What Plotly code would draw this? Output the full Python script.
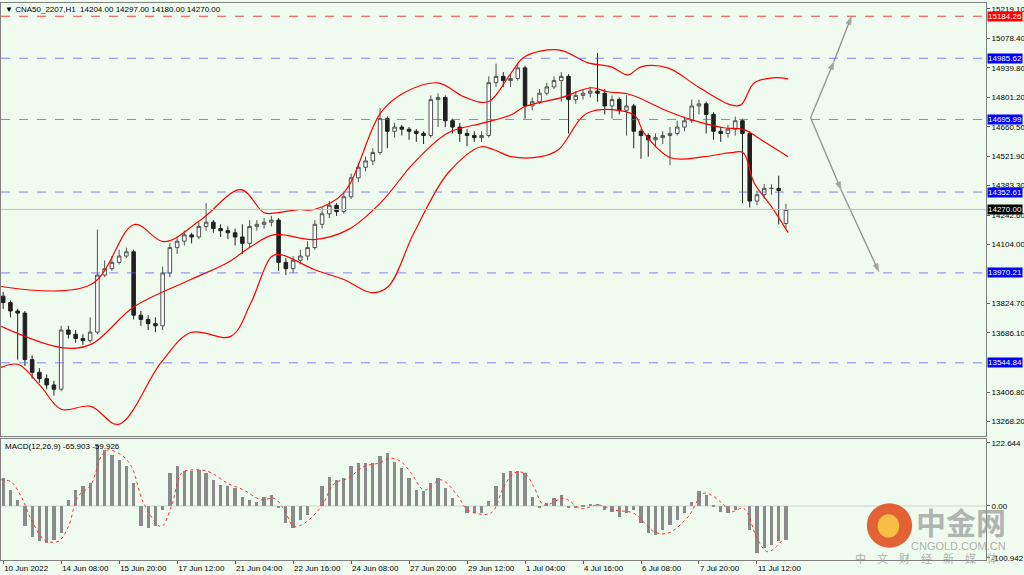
import plotly.graph_objects as go

# ---------------- data ----------------
x_labels = ["10 Jun 2022", "14 Jun 08:00", "15 Jun 20:00", "17 Jun 12:00", "21 Jun 04:00",
            "22 Jun 16:00", "24 Jun 08:00", "27 Jun 20:00", "29 Jun 12:00", "1 Jul 04:00",
            "4 Jul 16:00", "6 Jul 08:00", "7 Jul 20:00", "11 Jul 12:00"]
x_label_pos = [0, 8, 16, 24, 32, 40, 48, 56, 64, 72, 80, 88, 96, 104]

closes = [13830,13790,13780,13560,13500,13470,13440,13420,13700,13680,
          13660,13650,13690,13960,13990,14020,14050,14070,13770,13750,
          13730,13720,13970,14090,14120,14150,14140,14190,14210,14180,
          14170,14160,14140,14110,14190,14200,14210,14220,14020,13990,
          14030,14050,14090,14200,14250,14290,14260,14330,14420,14470,
          14500,14540,14700,14640,14660,14650,14640,14630,14620,14790,
          14800,14690,14660,14630,14620,14610,14620,14870,14900,14880,
          14890,14940,14760,14780,14820,14850,14880,14900,14790,14810,
          14820,14830,14820,14760,14790,14740,14760,14640,14620,14600,
          14610,14620,14630,14660,14690,14760,14770,14720,14640,14630,
          14650,14690,14630,14310,14340,14370,14370,14360,14270]
opens = [13860,13830,13790,13780,13560,13500,13470,13440,13420,13700,
         13680,13660,13650,13690,13960,13990,14020,14050,14070,13770,
         13750,13730,13720,13970,14090,14120,14150,14140,14190,14210,
         14180,14170,14160,14140,14110,14190,14200,14210,14220,14020,
         13990,14030,14050,14090,14200,14250,14290,14260,14330,14420,
         14470,14500,14540,14700,14640,14660,14650,14640,14630,14620,
         14790,14800,14690,14660,14630,14620,14610,14620,14870,14900,
         14880,14890,14940,14760,14780,14820,14850,14880,14900,14790,
         14810,14820,14830,14820,14760,14790,14740,14760,14640,14620,
         14600,14610,14620,14630,14660,14690,14760,14770,14720,14640,
         14630,14650,14690,14630,14310,14340,14370,14370,14204]
highs = [13880,13840,13800,13790,13580,13520,13490,13460,13720,13720,
         13700,13680,13760,14175,14030,14050,14080,14090,14080,13790,
         13770,13760,14000,14110,14140,14170,14160,14210,14300,14220,
         14200,14190,14180,14200,14220,14220,14230,14240,14230,14040,
         14050,14080,14120,14220,14280,14310,14300,14350,14440,14490,
         14520,14560,14750,14710,14680,14670,14660,14650,14640,14810,
         14820,14810,14700,14680,14650,14640,14640,14900,14960,14920,
         14910,14964,14950,14800,14840,14870,14900,14920,14910,14830,
         14840,14850,15010,14840,14810,14800,14810,14770,14650,14630,
         14630,14640,14660,14690,14710,14790,14790,14780,14730,14660,
         14670,14710,14700,14640,14360,14390,14390,14430,14297]
lows = [13800,13760,13560,13530,13470,13450,13420,13390,13410,13660,
        13640,13630,13640,13680,13950,13980,14010,14040,13750,13720,
        13700,13690,13700,13950,14060,14100,14110,14130,14170,14160,
        14140,14130,14100,14060,14090,14170,14180,14190,13980,13960,
        13970,14010,14030,14080,14180,14230,14240,14250,14320,14400,
        14450,14480,14530,14560,14610,14620,14600,14590,14580,14610,
        14660,14660,14630,14590,14570,14590,14590,14610,14850,14850,
        14850,14880,14700,14740,14770,14810,14840,14780,14630,14770,
        14790,14800,14780,14720,14700,14720,14620,14560,14510,14520,
        14570,14580,14480,14620,14640,14680,14720,14630,14600,14590,
        14610,14620,14300,14280,14290,14320,14340,14200,14180]

bb_up_x = [-0.3,12.1,18.1,22.2,27.3,32.8,36.0,37.9,40.7,42.9,47.0,52.1,55.3,60.0,63.6,
           66.9,70.1,71.9,76.6,80.7,83.9,86.2,88.0,91.7,95.9,100.4,101.8,103.6,106.3,108.3]
bb_up = [13906,13915,14199,14118,14222,14364,14255,14255,14270,14270,14350,14728,14822,14869,14803,
         14780,14917,14992,15025,14964,14945,14907,14945,14940,14850,14765,14765,14869,14893,14888]
bb_mid_x = [-0.3,8.0,12.1,18.1,25.9,31.0,34.2,37.4,42.9,47.6,52.1,56.7,61.4,66.3,70.1,71.9,
            77.0,81.1,83.4,86.6,91.2,94.9,99.4,102.2,105.0,108.3]
bb_mid = [13717,13617,13632,13811,13939,14019,14095,14151,14128,14175,14303,14492,14633,14680,14718,14756,
          14799,14846,14827,14813,14742,14695,14657,14648,14591,14520]
bb_low_x = [-0.3,2.1,5.2,8.0,12.1,15.9,21.8,25.9,31.4,34.2,37.0,38.3,42.9,47.0,50.8,53.1,56.7,
            61.4,65.9,67.7,70.1,74.2,76.6,80.7,87.0,88.4,92.1,96.7,100.4,102.1,103.6,106.0,108.3]
bb_low = [13523,13537,13433,13325,13339,13254,13547,13688,13670,13830,14047,14057,13986,13939,13877,13905,14161,
          14444,14567,14553,14520,14520,14553,14728,14718,14633,14515,14520,14539,14539,14397,14284,14161]

macd_hist = [54,31,12,-40,-60,-69,-73,-66,-53,12,
             31,38,44,119,109,99,90,77,44,-40,
             -43,-40,-8,64,77,67,67,70,64,51,
             41,38,34,18,12,8,18,21,-5,-34,
             -43,-27,-18,0,38,57,51,54,77,83,
             83,83,96,102,86,73,54,31,28,44,
             54,34,15,0,-14,-14,-14,10,38,64,
             67,67,64,18,-5,5,15,21,-5,-5,
             -1,2,4,-8,-11,-21,-14,-8,-34,-53,
             -56,-47,-37,-27,-14,8,28,21,-1,-11,
             -14,-8,0,-47,-92,-82,-76,-69,-66]
sig_x = [-0.3,1.1,2.5,3.9,5.7,7.6,9.0,10.3,12.1,13.5,14.5,16.3,17.7,19.4,21.8,23.2,24.6,25.9,28.3,
         31.0,33.2,35.6,37.4,38.8,40.1,41.5,43.9,45.7,47.6,49.8,51.7,53.5,54.9,56.3,58.1,60.4,62.8,
         64.1,66.9,67.7,69.1,70.5,71.9,73.2,74.6,77.4,79.7,82.1,84.3,87.0,89.8,91.7,94.5,96.7,99.0,
         100.4,102.2,104.1,105.5,107.7]
sig = [51,47,18,-27,-66,-69,-40,18,41,96,109,99,77,5,-40,-1,64,70,67,
       44,31,12,15,-8,-40,-34,-1,44,54,77,83,93,86,64,31,51,18,
       -8,-16,-8,38,64,64,38,2,15,-5,2,-8,-14,-50,-53,-21,25,8,
       -11,-5,-66,-89,-63]

levels = [15184.26, 14985.62, 14695.99, 14352.61, 13970.21, 13544.84]
level_colors = ["#ff0000", "#0000ff", "#0000ff", "#0000ff", "#0000ff", "#0000ff"]
last_price = 14270.00
price_ticks = [15219.10, 15078.40, 14939.80, 14801.20, 14660.50, 14521.90, 14383.30,
               14242.60, 14104.00, 13824.70, 13686.10, 13406.80, 13268.20]
macd_ticks = [122.644, 0.00, -100.942]
macd_tick_text = ["122.644", "0.00", "-100.942"]

arrow_up_x = [111.4, 114.6, 117.0]
arrow_up_y = [14704, 14969, 15181]
arrow_dn_x = [111.4, 115.6, 120.8]
arrow_dn_y = [14704, 14364, 13977]

# ---------------- figure ----------------
bars = list(range(len(closes)))
bg = "#effbef"
fig = go.Figure()

fig.add_trace(go.Candlestick(
    x=bars, open=opens, high=highs, low=lows, close=closes,
    increasing=dict(line=dict(color="#505050", width=1), fillcolor="#ffffff"),
    decreasing=dict(line=dict(color="#202020", width=1), fillcolor="#202020"),
    whiskerwidth=0, showlegend=False, xaxis="x", yaxis="y"))

for bx, by in [(bb_up_x, bb_up), (bb_mid_x, bb_mid), (bb_low_x, bb_low)]:
    fig.add_trace(go.Scatter(x=bx, y=by, mode="lines", line=dict(color="#ff0000", width=1.2, shape="spline"),
                             showlegend=False, hoverinfo="skip", xaxis="x", yaxis="y"))

for ax_, ay_ in [(arrow_up_x, arrow_up_y), (arrow_dn_x, arrow_dn_y)]:
    fig.add_trace(go.Scatter(x=ax_, y=ay_, mode="lines+markers",
                             line=dict(color="#909090", width=1.3),
                             marker=dict(symbol="arrow", size=[0, 8, 8], angleref="previous", color="#808080"),
                             showlegend=False, hoverinfo="skip", xaxis="x", yaxis="y"))

fig.add_trace(go.Bar(x=bars, y=macd_hist, marker=dict(color="#8a8a8a", line=dict(width=0)), width=0.45,
                     showlegend=False, xaxis="x2", yaxis="y2"))
fig.add_trace(go.Scatter(x=sig_x, y=sig, mode="lines", line=dict(color="#ff3030", width=1, dash="dot", shape="spline"),
                         showlegend=False, xaxis="x2", yaxis="y2"))

shapes = []
for lv, col in zip(levels, level_colors):
    shapes.append(dict(type="line", xref="x domain", yref="y", x0=0, x1=1, y0=lv, y1=lv,
                       line=dict(color=col if col == "#ff0000" else "#5a5aff", width=1, dash="dash"),
                       opacity=0.75))
shapes.append(dict(type="line", xref="x domain", yref="y", x0=0, x1=1, y0=last_price, y1=last_price,
                   line=dict(color="#c0c0c0", width=1)))
shapes.append(dict(type="line", xref="x2 domain", yref="y2", x0=0, x1=1, y0=0, y1=0,
                   line=dict(color="#b0b0b0", width=0.5)))
# watermark logo
shapes.append(dict(type="circle", xref="paper", yref="paper", x0=0.879, x1=0.925, y0=0.022, y1=0.102,
                   fillcolor="rgba(225,70,20,0.85)", line=dict(width=0)))
shapes.append(dict(type="circle", xref="paper", yref="paper", x0=0.890, x1=0.912, y0=0.040, y1=0.082,
                   fillcolor="rgba(250,200,70,0.9)", line=dict(width=0)))

annotations = []
for lv, col in zip(levels, level_colors):
    annotations.append(dict(xref="paper", yref="y", x=1, y=lv, xanchor="left", xshift=1, showarrow=False,
                            text=f"{lv:.2f}", font=dict(size=8, color="white", family="Liberation Sans"),
                            bgcolor=col, borderpad=0))
annotations.append(dict(xref="paper", yref="y", x=1, y=last_price, xanchor="left", xshift=1, showarrow=False,
                        text=f"{last_price:.2f}", font=dict(size=8, color="white", family="Liberation Sans"),
                        bgcolor="#000000", borderpad=0))
annotations.append(dict(xref="paper", yref="paper", x=0.002, y=1.0, xanchor="left", yanchor="top", showarrow=False,
                        text="▼ CNA50_2207,H1  14204.00 14297.00 14180.00 14270.00",
                        font=dict(size=8, color="#000000", family="Liberation Sans")))
annotations.append(dict(xref="paper", yref="paper", x=0.002, y=0.215, xanchor="left", yanchor="top", showarrow=False,
                        text="MACD(12,26,9) -65.903 -59.926",
                        font=dict(size=8, color="#000000", family="Liberation Sans")))
annotations.append(dict(xref="paper", yref="paper", x=1.022, y=0.07, xanchor="right", yanchor="middle", showarrow=False,
                        text="<b>中金网</b>", font=dict(size=30, color="rgba(150,150,150,0.7)", family="Noto Sans CJK SC")))
annotations.append(dict(xref="paper", yref="paper", x=1.022, y=0.025, xanchor="right", yanchor="middle", showarrow=False,
                        text="CNGOLD.COM.CN", font=dict(size=11, color="rgba(150,150,150,0.75)", family="Liberation Sans")))
annotations.append(dict(xref="paper", yref="paper", x=1.014, y=0.004, xanchor="right", yanchor="middle", showarrow=False,
                        text="中　文　财　经　新　媒　体", font=dict(size=11, color="rgba(150,150,150,0.75)", family="Noto Sans CJK SC")))

fig.update_layout(
    width=1024, height=575, paper_bgcolor=bg, plot_bgcolor=bg,
    margin=dict(l=1, r=38, t=3, b=15),
    shapes=shapes, annotations=annotations, showlegend=False, bargap=0,
    font=dict(family="Liberation Sans", size=8, color="#000000"),
    xaxis=dict(domain=[0, 1], range=[-0.3, 135.6], showticklabels=False, showgrid=False, zeroline=False,
               rangeslider=dict(visible=False), showline=True, linecolor="#808080", mirror=True, anchor="y",
               automargin=False),
    yaxis=dict(domain=[0.222, 1], range=[13197, 15247], side="right", tickvals=price_ticks,
               ticktext=[f"{v:.2f}" for v in price_ticks], ticks="outside", ticklen=3, tickcolor="#606060",
               showgrid=False, zeroline=False, showline=True, linecolor="#808080", mirror=True,
               tickfont=dict(size=8), anchor="x", automargin=False),
    xaxis2=dict(domain=[0, 1], range=[-0.3, 135.6], tickvals=x_label_pos, ticktext=x_labels,
                ticks="outside", ticklen=3, tickcolor="#606060", ticklabelposition="outside right",
                showgrid=False, zeroline=False, showline=True, linecolor="#808080", mirror=True,
                tickfont=dict(size=8), anchor="y2", automargin=False),
    yaxis2=dict(domain=[0, 0.217], range=[-105, 130], side="right", tickvals=macd_ticks, ticktext=macd_tick_text,
                ticks="outside", ticklen=3, tickcolor="#606060", showgrid=False, zeroline=False,
                showline=True, linecolor="#808080", mirror=True, tickfont=dict(size=8), anchor="x2",
                automargin=False),
)

fig.write_html("out.html", config={"displayModeBar": False},
               post_script="document.body.style.margin='0';document.body.style.overflow='hidden';")
